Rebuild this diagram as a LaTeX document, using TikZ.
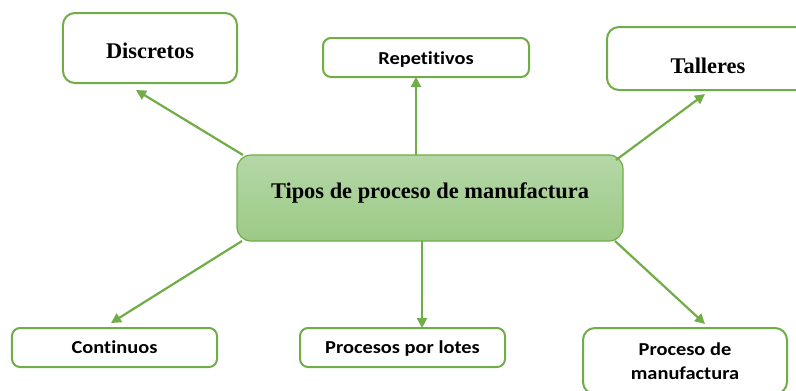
\documentclass[tikz,border=0pt]{standalone}
\usepackage{fontspec}
\setmainfont{Liberation Serif}
\newfontfamily\boxsans[FakeStretch=1.12,Ligatures=NoCommon]{Carlito}
\usetikzlibrary{arrows.meta}
\definecolor{gborder}{HTML}{70AD47}
\definecolor{gtop}{HTML}{B5D7A8}
\definecolor{gbot}{HTML}{9CCA85}
\tikzset{
  serifbox/.style={draw=gborder, line width=2bp, rounded corners=12bp, fill=white,
    font=\fontsize{22.5}{26}\selectfont\bfseries, align=center, inner sep=0pt},
  sansbox/.style={draw=gborder, line width=2bp, rounded corners=8bp, fill=white,
    font=\boxsans\fontsize{18.3}{24.5}\selectfont\bfseries, align=center, inner sep=0pt},
  mainbox/.style={draw=gborder, line width=1.2bp, rounded corners=14bp,
    top color=gtop, bottom color=gbot,
    font=\fontsize{22.5}{26}\selectfont\bfseries, align=center, inner sep=0pt},
  conn/.style={draw=gborder, line width=2.2bp, -{Triangle[length=10bp,width=10bp]}},
}
\begin{document}
\begin{tikzpicture}[x=1bp,y=-1bp]
\useasboundingbox (0,0) rectangle (796,390);
% boxes
\node[serifbox, minimum width=174bp, minimum height=70bp, text height=25bp, text depth=5bp] (disc) at (150,48) {Discretos};
\node[sansbox, minimum width=206bp, minimum height=39bp, text height=17bp, text depth=4bp] (rep) at (426,57.5) {Repetitivos};
\node[serifbox, minimum width=202bp, minimum height=63bp, text height=34bp, text depth=5bp] (tall) at (708,58.5) {Talleres};
\node[mainbox, minimum width=386bp, minimum height=86bp, text height=10bp, text depth=10bp] (main) at (430,198) {Tipos de proceso de manufactura};
\node[sansbox, minimum width=205bp, minimum height=39bp, text height=16bp, text depth=4.4bp] (cont) at (114.5,347.5) {Continuos};
\node[sansbox, minimum width=205bp, minimum height=39bp, text height=16bp, text depth=4.4bp] (lotes) at (402.5,347.5) {Procesos por lotes};
\node[sansbox, minimum width=204bp, minimum height=66bp, rounded corners=12bp] (pman) at (685,361) {Proceso de\\manufactura};
% connector endpoints
\coordinate (s1) at (243,155);
\coordinate (t1) at (136,90);
\coordinate (s2) at (416,155);
\coordinate (t2) at (416,77);
\coordinate (s3) at (616,160);
\coordinate (t3) at (705,94);
\coordinate (s4) at (242,241);
\coordinate (t4) at (111,323);
\coordinate (s5) at (422,241);
\coordinate (t5) at (422,328);
\coordinate (s6) at (615,241);
\coordinate (t6) at (705,324);
\draw[conn] (s1) -- (t1);
\draw[conn] (s2) -- (t2);
\draw[conn] (s3) -- (t3);
\draw[conn] (s4) -- (t4);
\draw[conn] (s5) -- (t5);
\draw[conn] (s6) -- (t6);
\end{tikzpicture}
\end{document}
